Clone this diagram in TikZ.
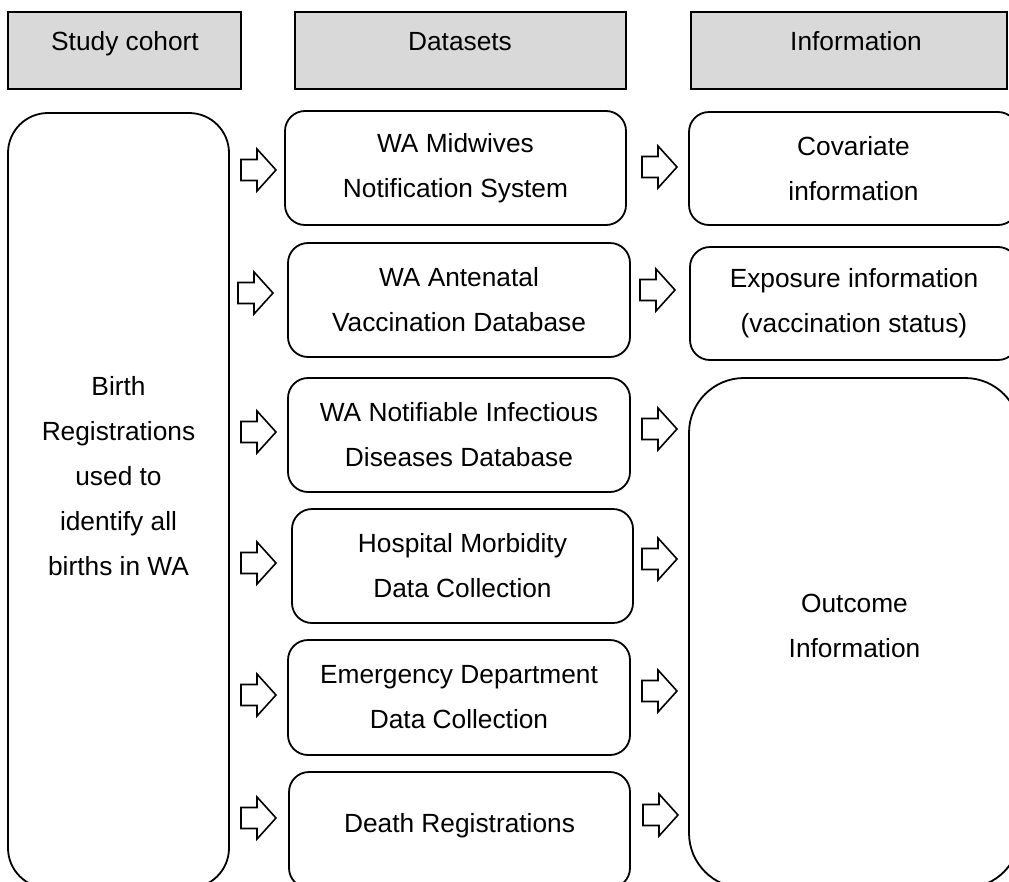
\documentclass[tikz,border=0pt]{standalone}
\usepackage{fontspec}
\setmainfont{Liberation Sans}
\definecolor{hdrgray}{HTML}{D9D9D9}
\begin{document}
\begin{tikzpicture}[x=1pt,y=-1pt,
  every node/.style={font=\fontsize{26.3pt}{45pt}\selectfont, text=black},
  hdr/.style={draw, line width=1.8pt, fill=hdrgray, inner sep=0pt},
  hdrtext/.style={text height=19pt, text depth=6pt, inner sep=0pt},
  rbox/.style={draw, line width=1.8pt, rounded corners=20pt, inner sep=0pt, align=center},
  plaintext/.style={inner sep=0pt, align=center},
  barrow/.pic={\draw[line width=1.6pt, fill=white, miter limit=10]
     (0,-10.5) -- (16,-10.5) -- (16,-21) -- (35,0) -- (16,21) -- (16,10.5) -- (0,10.5) -- cycle;}
]
\path[use as bounding box, clip] (0,0) rectangle (1009,881);
\fill[white] (0,0) rectangle (1009,881);

% headers
\node[hdr, minimum width=233pt, minimum height=77pt] (h1) at (124.5,50.5) {};
\node[hdr, minimum width=331pt, minimum height=77pt] (h2) at (460.5,50.5) {};
\node[hdr, minimum width=316pt, minimum height=77pt] (h3) at (849,50.5) {};
\node[hdrtext] (h1t) at (125,43.5) {Study cohort};
\node[hdrtext] (h2t) at (460,43.5) {Datasets};
\node[hdrtext] (h3t) at (856,43.5) {Information};

% study cohort
\node[rbox, rounded corners=40pt, minimum width=221pt, minimum height=775pt] (L) at (118.5,500.5) {};
\node[plaintext] (Lt) at (118.5,476) {Birth\\Registrations\\used to\\identify all\\births in WA};

% datasets
\node[rbox, minimum width=341pt, minimum height=114pt] (d1) at (455.5,168) {WA Midwives\\Notification System};
\node[rbox, minimum width=342pt, minimum height=114pt] (d2) at (459,300) {WA Antenatal\\Vaccination Database};
\node[rbox, minimum width=342pt, minimum height=114pt] (d3) at (459,435) {WA Notifiable Infectious\\Diseases Database};
\node[rbox, minimum width=341pt, minimum height=114pt] (d4) at (462.5,566) {Hospital Morbidity\\Data Collection};
\node[rbox, minimum width=342pt, minimum height=115pt] (d5) at (459,697.5) {Emergency Department\\Data Collection};
\node[rbox, minimum width=341pt, minimum height=116pt] (d6) at (459.5,830) {};
\node[plaintext] (d6t) at (459.5,826) {Death Registrations};

% information
\node[rbox, minimum width=329pt, minimum height=113pt] (i1) at (853.5,168.5) {Covariate\\information};
\node[rbox, minimum width=328pt, minimum height=113pt] (i2) at (854,303.5) {Exposure information\\(vaccination status)};
\node[rbox, rounded corners=55pt, minimum width=331pt, minimum height=510pt] (i3) at (854.5,633) {};
\node[plaintext] (i3t) at (854.5,626) {Outcome\\Information};

% block arrows, left column
\pic at (241,170) {barrow};
\pic at (238,293) {barrow};
\pic at (241,432) {barrow};
\pic at (241,563) {barrow};
\pic at (241,695) {barrow};
\pic at (241,818) {barrow};
% block arrows, right column
\pic at (642,167) {barrow};
\pic at (640,290) {barrow};
\pic at (642,429) {barrow};
\pic at (642,559) {barrow};
\pic at (642,691) {barrow};
\pic at (643,815) {barrow};
\end{tikzpicture}
\end{document}
